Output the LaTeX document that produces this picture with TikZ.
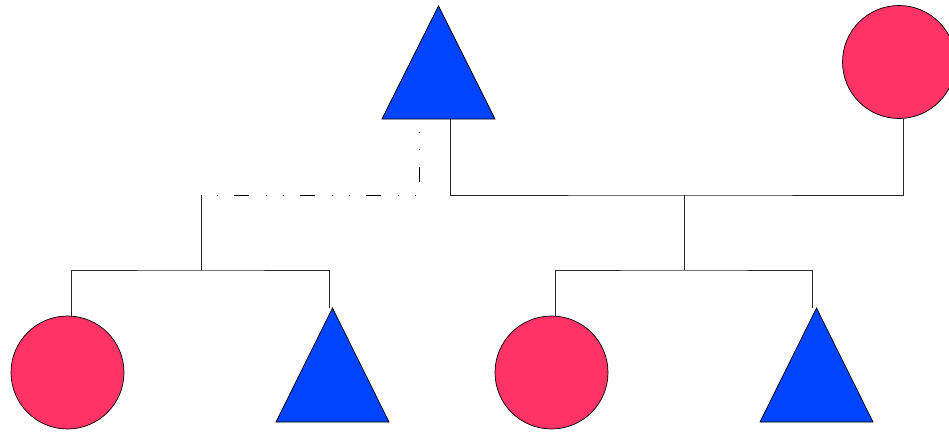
\documentclass[tikz,border=0pt]{standalone}
\usetikzlibrary{calc}
\definecolor{tblue}{RGB}{0,68,255}
\definecolor{cred}{RGB}{255,51,102}
\begin{document}
\begin{tikzpicture}[x=1pt,y=-1pt,
  tri/.style={draw=black,fill=tblue,line width=0.7pt,line join=miter},
  circ/.style={circle,draw=black,fill=cred,line width=0.7pt,minimum size=113pt,inner sep=0pt},
  link/.style={draw=black!85,line width=0.7pt},
  dashdot/.style={draw=black,line width=0.8pt,dash pattern=on 15pt off 17pt on 1pt off 16pt on 1pt off 16pt,dash phase=33pt}]
\useasboundingbox (0,0) rectangle (949,431);
% shapes
\path[tri] (438.5,6) -- (495,119) -- (382,119) -- cycle;
\coordinate (ta) at (450,119);
\coordinate (tb) at (419,119);
\node[circ] (rc) at (899,62) {};
\node[circ] (c1) at (67.5,372.5) {};
\path[tri] (332.5,308) -- (389,422) -- (276,422) -- cycle;
\coordinate (t2) at (329,308);
\node[circ] (c3) at (551.5,372.5) {};
\path[tri] (816.5,308) -- (873,422) -- (760,422) -- cycle;
\coordinate (t4) at (812,308);
% junction points
\coordinate (jr) at (684,195);
\coordinate (jl) at (201,195);
\coordinate (br) at (684,270);
\coordinate (bl) at (201,270);
% right family
\draw[link] (ta) |- (jr) -| ($(rc.south)+(4,0)$);
\draw[link] (jr) -- (br);
\draw[link] ($(c3.north)+(3.5,0)$) |- (br) -| (t4);
% left family
\draw[dashdot] (jl) -| (tb);
\draw[link] (jl) -- (bl);
\draw[link] ($(c1.north)+(3.5,0)$) |- (bl) -| (t2);
\end{tikzpicture}
\end{document}
